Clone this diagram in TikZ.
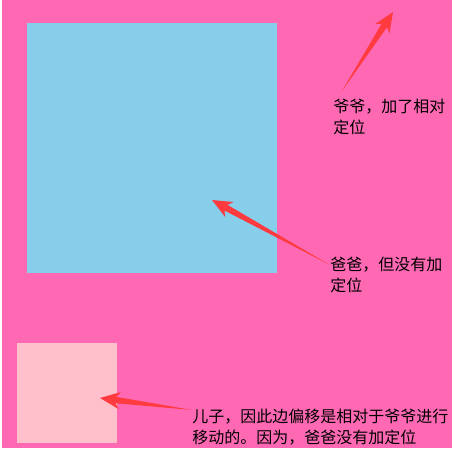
\documentclass[tikz,border=0pt]{standalone}
\usepackage{fontspec}
\newfontfamily\cjk{Noto Sans CJK SC}
\usetikzlibrary{calc,positioning}
\definecolor{grandpink}{HTML}{FF69B4}
\definecolor{fatherblue}{HTML}{87CEEB}
\definecolor{sonpink}{HTML}{FFC0CB}
\definecolor{arrowred}{HTML}{FF3B3F}
\tikzstyle{box}  = [rectangle, draw=none, inner sep=0pt, outer sep=0pt, anchor=north west]
\tikzstyle{note} = [inner sep=0pt, anchor=north west, align=left,
                    font=\cjk\fontsize{12}{15.75}\selectfont]
% tapered pointer from #1 (tail) to #2 (tip)
\newcommand{\pointer}[2]{%
  \coordinate (shaftend) at ($(#2)!12pt!(#1)$);
  \coordinate (barb) at ($(#2)!15pt!(#1)$);
  \fill[arrowred] (#1) -- ($(shaftend)!2.4pt!90:(#2)$) -- ($(barb)!6.5pt!90:(#2)$)
    -- (#2) -- ($(barb)!6.5pt!-90:(#2)$) -- ($(shaftend)!2.4pt!-90:(#2)$) -- cycle;
}

\begin{document}
\begin{tikzpicture}[x=0.75pt, y=-0.75pt]
    \useasboundingbox[fill=white] (0,0) rectangle (458,449);

    % the three boxes
    \node[box, fill=grandpink, minimum width=337.5pt, minimum height=336pt] (grandpa) at (2,0) {};
    \node[box, fill=fatherblue, minimum size=187.5pt] (father) at (27,23) {};
    \node[box, fill=sonpink, minimum size=75pt] (son) at (17,343) {};

    % notes
    \node[note] (grandpanote) at (333,99) {爷爷，加了相对\\定位};
    \node[note] (fathernote) at (330,257) {爸爸，但没有加\\定位};
    \node[note] (sonnote) at (192,409) {儿子，因此边偏移是相对于爷爷进行\\移动的。因为，爸爸没有加定位};

    % pointers
    \coordinate (grandpatip) at (393,12);
    \coordinate (grandpatail) at (342,91);
    \coordinate (fathertip) at (212,200);
    \coordinate (fathertail) at (330,265);
    \coordinate (sontip) at (100,398);
    \coordinate (sontail) at (192,410);
    \pointer{grandpatail}{grandpatip}
    \pointer{fathertail}{fathertip}
    \pointer{sontail}{sontip}
\end{tikzpicture}
\end{document}
